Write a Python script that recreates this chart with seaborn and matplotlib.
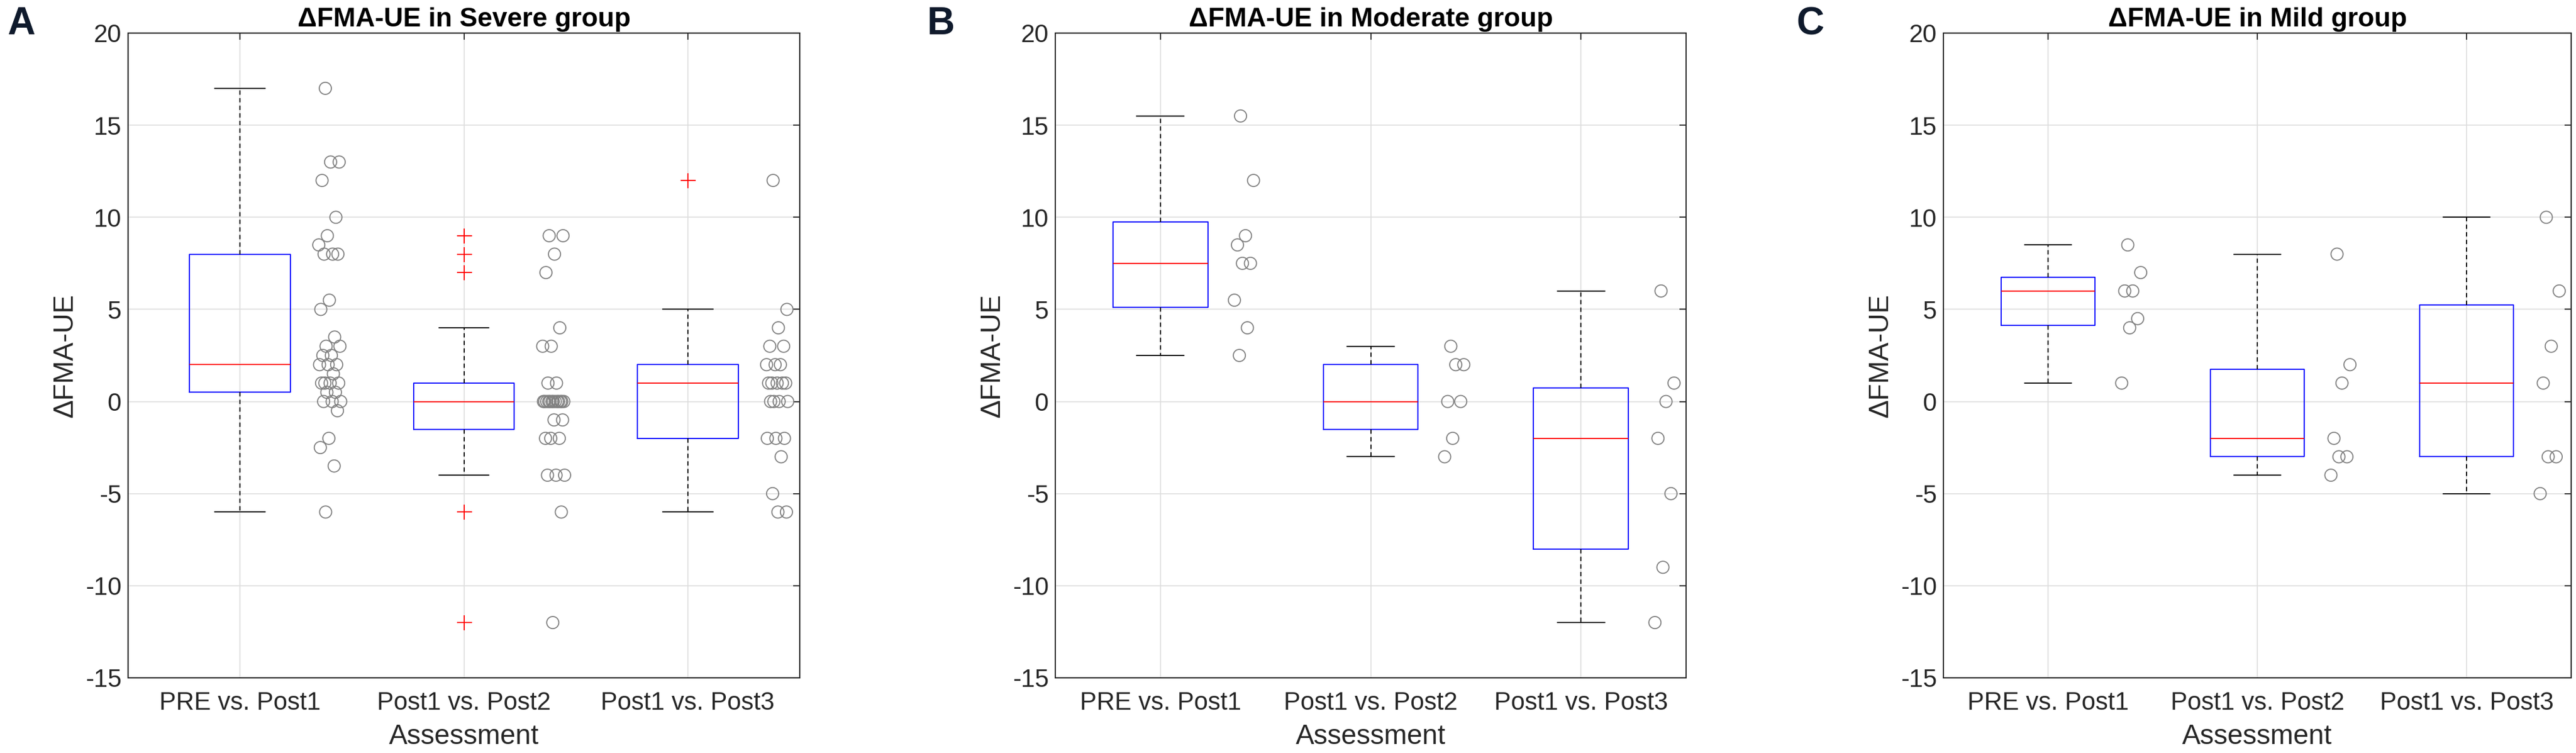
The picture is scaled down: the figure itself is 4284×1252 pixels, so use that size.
import numpy as np
import pandas as pd
import matplotlib
matplotlib.use("Agg")
import matplotlib as mpl
import matplotlib.cbook as cbook
import matplotlib.pyplot as plt
import seaborn as sns

# ---------------- data ----------------
comparisons = ["PRE vs. Post1", "Post1 vs. Post2", "Post1 vs. Post3"]
panel_letters = ["A", "B", "C"]
panel_titles = ["\u0394FMA-UE in Severe group",
                "\u0394FMA-UE in Moderate group",
                "\u0394FMA-UE in Mild group"]
y_label = "\u0394FMA-UE"
x_label = "Assessment"
y_ticks = [-15, -10, -5, 0, 5, 10, 15, 20]

severe_pre_post1 = [17, 13, 13, 12, 10, 9, 8.5, 8, 8, 8, 5.5, 5, 3.5, 3, 3, 2.5, 2.5,
                    2, 2, 2, 1.5, 1, 1, 1, 1, 0.5, 0.5, 0, 0, 0, -0.5, -2, -2.5, -3.5, -6]
severe_post1_post2 = [9, 9, 8, 7, 4, 3, 3, 1, 1, 0, 0, 0, 0, 0, 0, 0, 0, 0, 0, 0, 0, 0,
                      -1, -1, -2, -2, -2, -4, -4, -4, -6, -12]
severe_post1_post3 = [12, 5, 4, 3, 3, 2, 2, 2, 1, 1, 1, 1, 1, 0, 0, 0, 0,
                      -2, -2, -2, -3, -5, -6, -6]

moderate_pre_post1 = [15.5, 12, 9, 8.5, 7.5, 7.5, 5.5, 4, 2.5]
moderate_post1_post2 = [3, 2, 2, 0, 0, -2, -3]
moderate_post1_post3 = [6, 1, 0, -2, -5, -9, -12]

mild_pre_post1 = [8.5, 7, 6, 6, 4.5, 4, 1]
mild_post1_post2 = [8, 2, 1, -2, -3, -3, -4]
mild_post1_post3 = [10, 6, 3, 1, -3, -3, -5]

panel_data = [
    [severe_pre_post1, severe_post1_post2, severe_post1_post3],
    [moderate_pre_post1, moderate_post1_post2, moderate_post1_post3],
    [mild_pre_post1, mild_post1_post2, mild_post1_post3],
]

# ------------- MATLAB-style quartiles (prctile == 'hazen') -------------
_mpl_boxplot_stats = cbook.boxplot_stats


def matlab_boxplot_stats(X, whis=1.5, bootstrap=None, labels=None, autorange=False):
    stats = _mpl_boxplot_stats(X, whis=whis, bootstrap=bootstrap,
                               labels=labels, autorange=autorange)
    if isinstance(X, (list, tuple)) and len(X) and np.ndim(X[0]) > 0:
        data = X
    else:
        data = [X]
    for st, x in zip(stats, data):
        x = np.asarray(x, dtype=float)
        x = x[np.isfinite(x)]
        if x.size == 0:
            continue
        q1, med, q3 = np.percentile(x, [25, 50, 75], method="hazen")
        iqr = q3 - q1
        lo, hi = q1 - whis * iqr, q3 + whis * iqr
        inside = x[(x >= lo) & (x <= hi)]
        wlo, whi = inside.min(), inside.max()
        st.update(q1=q1, med=med, q3=q3, iqr=iqr, whislo=wlo, whishi=whi,
                  fliers=x[(x < wlo) | (x > whi)])
    return stats


mpl.cbook.boxplot_stats = matlab_boxplot_stats

# ---------------- style ----------------
sns.set_style("white")
plt.rcParams["font.family"] = ["Liberation Sans", "DejaVu Sans"]
plt.rcParams["axes.unicode_minus"] = False

W, H = 4284, 1252
fig = plt.figure(figsize=(W / 100, H / 100), dpi=100)

axes_px = [(213, 1330), (1755, 2804), (3232, 4276)]
top_px, bottom_px = 55, 1127
letter_px = [(35, 40), (1565, 40), (3010, 40)]

ink = "#262626"


def jitter_offsets(n):
    k = np.arange(n)
    return 0.40 + 0.10 * (((k * 0.6180339887 + 0.31) % 1.0) - 0.5)


for i in range(3):
    x0, x1 = axes_px[i]
    ax = fig.add_axes([x0 / W, 1 - bottom_px / H, (x1 - x0) / W, (bottom_px - top_px) / H])

    rows = []
    for j, vals in enumerate(panel_data[i]):
        offs = jitter_offsets(len(vals))
        for v, o in zip(vals, offs):
            rows.append({"Assessment": comparisons[j], "value": v, "xpos": j + o})
    df = pd.DataFrame(rows)

    sns.boxplot(data=df, x="Assessment", y="value", order=comparisons, ax=ax,
                width=0.45, whis=1.5, fill=False, color="#0000ff", linewidth=1.3,
                medianprops={"color": "#ff0000", "linewidth": 1.3},
                whiskerprops={"color": "black", "linestyle": (0, (4, 3)), "linewidth": 1.3},
                capprops={"color": "black", "linewidth": 1.3},
                flierprops={"marker": "+", "markeredgecolor": "#ff0000",
                            "markerfacecolor": "none", "markersize": 18,
                            "markeredgewidth": 1.3})

    sns.scatterplot(data=df, x="xpos", y="value", ax=ax, marker="o", s=210,
                    facecolor="none", edgecolor="#808080", linewidth=1.3,
                    legend=False, zorder=3)

    ax.set_xlim(-0.5, 2.5)
    ax.set_ylim(-15, 20)
    ax.set_yticks(y_ticks)
    ax.set_xticks(range(len(comparisons)))
    ax.set_xticklabels(comparisons)
    ax.grid(True, color="#dedede", linewidth=1.2)
    ax.set_axisbelow(True)
    for sp in ax.spines.values():
        sp.set_visible(True)
        sp.set_color(ink)
        sp.set_linewidth(1.4)
    ax.tick_params(axis="both", direction="in", top=True, right=True, length=8,
                   width=1.3, color=ink, labelcolor=ink, labelsize=30)
    ax.tick_params(axis="x", pad=16)
    ax.tick_params(axis="y", pad=8)
    ax.set_xlabel(x_label, fontsize=33, color=ink, labelpad=10)
    ax.set_ylabel(y_label, fontsize=33, color=ink, labelpad=8)
    ax.set_title(panel_titles[i], fontsize=32, fontweight="bold", color="black", pad=8)

    lx, ly = letter_px[i]
    fig.text(lx / W, 1 - ly / H, panel_letters[i], fontsize=46, fontweight="bold",
             color="#0f1a2c", ha="center", va="center")

fig.savefig("out.png", dpi=100)
